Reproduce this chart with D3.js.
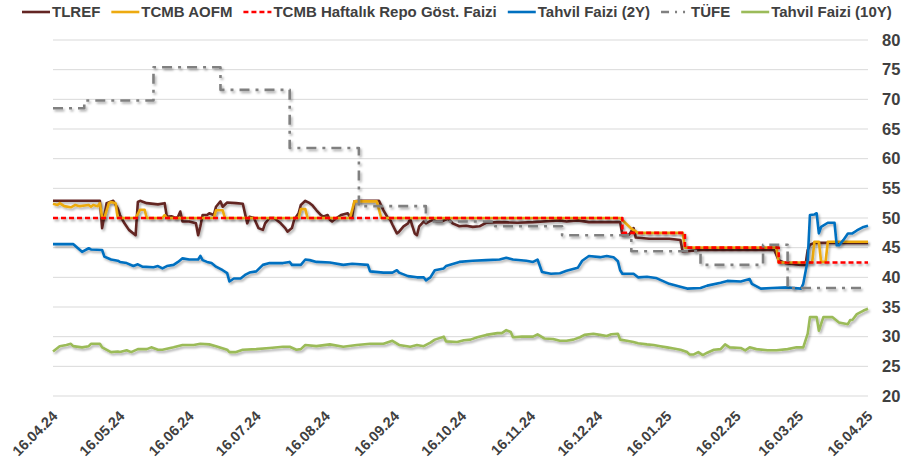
<!DOCTYPE html>
<html>
<head>
<meta charset="utf-8">
<script src="https://cdn.jsdelivr.net/npm/d3@7"></script>
<style>
  html, body { margin: 0; padding: 0; background: #fff; }
  svg { display: block; font-family: "Liberation Sans", Arial, sans-serif; }
</style>
</head>
<body>
<svg id="chart" width="909" height="462"></svg>
<script>
// series values (dd.mm.yy, %)
const tlref = [
  ["16.04.24",52.9],["07.05.24",52.9],["08.05.24",48.3],["10.05.24",52.5],["13.05.24",52.9],["15.05.24",51.6],
  ["16.05.24",50.5],["18.05.24",49.1],["20.05.24",48.0],["23.05.24",47.1],["24.05.24",52.7],["25.05.24",52.9],
  ["28.05.24",52.5],["02.06.24",52.3],["05.06.24",52.5],["06.06.24",50.2],["08.06.24",50.3],["10.06.24",50.0],
  ["11.06.24",50.2],["12.06.24",51.1],["13.06.24",49.4],["16.06.24",49.4],["19.06.24",49.1],["20.06.24",47.1],
  ["21.06.24",48.6],["22.06.24",50.5],["24.06.24",50.5],["25.06.24",50.8],["27.06.24",50.5],["28.06.24",51.9],
  ["30.06.24",52.8],["01.07.24",51.9],["03.07.24",52.6],["07.07.24",52.5],["10.07.24",52.4],["12.07.24",49.1],
  ["13.07.24",50.2],["15.07.24",50.0],["17.07.24",48.3],["19.07.24",48.0],["20.07.24",49.1],["22.07.24",50.0],
  ["24.07.24",50.0],["27.07.24",49.1],["29.07.24",48.3],["30.07.24",47.7],["01.08.24",48.3],["02.08.24",49.7],
  ["04.08.24",50.8],["05.08.24",52.2],["07.08.24",52.9],["09.08.24",52.5],["10.08.24",52.2],["12.08.24",51.3],
  ["14.08.24",50.5],["15.08.24",50.2],["17.08.24",50.5],["18.08.24",49.7],["19.08.24",49.4],["21.08.24",50.0],
  ["23.08.24",50.5],["26.08.24",50.8],["27.08.24",50.2],["28.08.24",50.2],["29.08.24",52.8],["31.08.24",52.9],
  ["09.09.24",52.9],["11.09.24",51.3],["13.09.24",50.0],["14.09.24",49.7],["15.09.24",48.9],["17.09.24",47.4],
  ["18.09.24",47.7],["20.09.24",48.6],["22.09.24",49.1],["23.09.24",49.8],["24.09.24",48.6],["25.09.24",47.4],
  ["26.09.24",47.1],["27.09.24",48.6],["29.09.24",49.4],["30.09.24",49.1],["03.10.24",49.7],["05.10.24",49.4],
  ["07.10.24",49.4],["10.10.24",49.9],["12.10.24",49.1],["15.10.24",48.6],["18.10.24",48.7],["21.10.24",48.5],
  ["24.10.24",48.6],["27.10.24",49.2],["02.11.24",49.3],["10.11.24",49.2],["17.11.24",49.3],["25.11.24",49.5],
  ["29.11.24",49.6],["02.12.24",49.4],["07.12.24",49.6],["12.12.24",49.3],["17.12.24",49.3],["26.12.24",49.3],
  ["27.12.24",47.1],["30.12.24",47.2],["01.01.25",48.3],["02.01.25",46.7],["08.01.25",46.5],["17.01.25",46.5],
  ["22.01.25",46.3],["23.01.25",44.3],["31.01.25",44.6],["09.02.25",44.6],["27.02.25",44.6],["05.03.25",44.6],
  ["07.03.25",42.9],["10.03.25",42.4],["17.03.25",42.1],["19.03.25",42.1],["20.03.25",44.6],["21.03.25",45.5],
  ["23.03.25",45.8],["16.04.25",45.8]
];

const aofm = [
  ["16.04.24",52.4],["18.04.24",52.2],["19.04.24",52.5],["21.04.24",52.0],["24.04.24",51.8],["26.04.24",52.2],
  ["28.04.24",52.0],["02.05.24",52.2],["03.05.24",51.9],["04.05.24",52.2],["06.05.24",52.0],["07.05.24",52.5],
  ["08.05.24",50.0],["09.05.24",50.0],["11.05.24",52.5],["12.05.24",52.7],["14.05.24",52.5],["15.05.24",50.0],
  ["23.05.24",50.0],["25.05.24",51.4],["27.05.24",51.4],["28.05.24",50.0],["04.06.24",50.0],["05.06.24",50.5],
  ["06.06.24",50.0],["27.06.24",50.0],["28.06.24",51.3],["01.07.24",51.3],["02.07.24",50.0],["04.08.24",50.0],
  ["05.08.24",51.5],["07.08.24",51.5],["08.08.24",50.0],["27.08.24",50.0],["29.08.24",52.8],["08.09.24",52.8],
  ["10.09.24",50.0],["26.12.24",50.0],["31.12.24",48.2],["03.01.25",47.5],["23.01.25",47.5],["24.01.25",45.0],
  ["06.03.25",45.0],["07.03.25",42.5],["22.03.25",42.5],["23.03.25",46.0],["25.03.25",46.0],["26.03.25",42.6],
  ["28.03.25",42.6],["29.03.25",46.0],["16.04.25",46.0]
];

const policyRate = [
  ["16.04.24",50],["27.12.24",47.5],["24.01.25",45],["07.03.25",42.5],["16.04.25",42.5]
];

const bond2y = [
  ["16.04.24",45.6],["25.04.24",45.6],["29.04.24",44.3],["02.05.24",44.9],["03.05.24",44.7],["08.05.24",44.6],
  ["09.05.24",43.5],["12.05.24",43.0],["15.05.24",42.8],["16.05.24",42.6],["19.05.24",42.4],["22.05.24",41.9],
  ["24.05.24",42.2],["26.05.24",41.8],["31.05.24",41.7],["02.06.24",41.9],["04.06.24",41.5],["06.06.24",41.9],
  ["09.06.24",42.1],["11.06.24",42.6],["13.06.24",43.2],["16.06.24",43.0],["20.06.24",43.0],["21.06.24",43.6],
  ["22.06.24",42.9],["24.06.24",42.6],["26.06.24",42.4],["28.06.24",41.8],["01.07.24",41.2],["03.07.24",40.7],
  ["04.07.24",39.3],["06.07.24",39.8],["09.07.24",39.8],["11.07.24",40.4],["13.07.24",40.8],["16.07.24",41.0],
  ["19.07.24",42.1],["22.07.24",42.4],["28.07.24",42.4],["31.07.24",42.6],["01.08.24",42.1],["05.08.24",42.1],
  ["07.08.24",43.0],["09.08.24",42.9],["12.08.24",42.6],["18.08.24",42.5],["24.08.24",42.1],["28.08.24",42.3],
  ["04.09.24",42.1],["05.09.24",41.0],["11.09.24",40.8],["15.09.24",40.8],["17.09.24",41.2],["18.09.24",40.8],
  ["22.09.24",40.2],["26.09.24",40.0],["29.09.24",40.0],["30.09.24",39.5],["02.10.24",40.0],["04.10.24",41.2],
  ["08.10.24",41.5],["09.10.24",41.9],["15.10.24",42.6],["21.10.24",42.8],["27.10.24",42.9],["02.11.24",43.0],
  ["05.11.24",43.3],["08.11.24",43.0],["14.11.24",42.8],["17.11.24",42.6],["19.11.24",43.0],["21.11.24",40.9],
  ["25.11.24",40.6],["29.11.24",40.7],["02.12.24",41.1],["07.12.24",41.6],["09.12.24",42.8],["12.12.24",43.6],
  ["17.12.24",43.4],["20.12.24",43.6],["23.12.24",43.4],["25.12.24",42.7],["26.12.24",41.2],["27.12.24",40.6],
  ["01.01.25",40.6],["03.01.25",40.0],["07.01.25",40.1],["11.01.25",39.9],["14.01.25",39.4],["17.01.25",38.9],
  ["22.01.25",38.4],["25.01.25",38.1],["31.01.25",38.2],["03.02.25",38.6],["09.02.25",39.1],["12.02.25",39.4],
  ["18.02.25",39.3],["22.02.25",39.7],["23.02.25",38.9],["27.02.25",38.1],["04.03.25",38.2],["11.03.25",38.3],
  ["17.03.25",38.1],["18.03.25",38.9],["20.03.25",42.9],["21.03.25",50.5],["23.03.25",50.6],["24.03.25",50.8],
  ["25.03.25",47.4],["26.03.25",48.5],["29.03.25",49.2],["01.04.25",49.2],["02.04.25",45.4],["03.04.25",45.4],
  ["05.04.25",46.3],["07.04.25",47.4],["09.04.25",47.4],["11.04.25",47.9],["14.04.25",48.5],["16.04.25",48.7]
];

const tufe = [
  ["16.04.24",68.5],["30.04.24",69.8],["31.05.24",75.4],["30.06.24",71.6],["31.07.24",61.8],["31.08.24",52.0],
  ["30.09.24",49.4],["31.10.24",48.6],["30.11.24",47.1],["31.12.24",44.4],["31.01.25",42.1],["28.02.25",45.5],
  ["11.03.25",38.2],["14.04.25",38.2]
];

const bond10y = [
  ["16.04.24",27.5],["19.04.24",28.4],["22.04.24",28.6],["24.04.24",28.8],["25.04.24",28.4],["29.04.24",28.2],
  ["02.05.24",28.4],["03.05.24",28.8],["07.05.24",28.8],["08.05.24",28.2],["12.05.24",27.4],["15.05.24",27.5],
  ["16.05.24",27.4],["19.05.24",27.7],["21.05.24",27.4],["24.05.24",27.9],["28.05.24",27.9],["30.05.24",28.2],
  ["02.06.24",27.8],["04.06.24",27.8],["09.06.24",28.2],["13.06.24",28.6],["18.06.24",28.6],["21.06.24",28.8],
  ["25.06.24",28.7],["28.06.24",28.4],["03.07.24",27.8],["04.07.24",27.4],["07.07.24",27.4],["10.07.24",27.8],
  ["16.07.24",27.9],["22.07.24",28.1],["28.07.24",28.3],["31.07.24",28.3],["03.08.24",27.8],["05.08.24",27.9],
  ["07.08.24",28.6],["12.08.24",28.4],["18.08.24",28.7],["24.08.24",28.3],["30.08.24",28.6],["05.09.24",28.8],
  ["11.09.24",28.8],["15.09.24",29.3],["18.09.24",28.6],["23.09.24",28.3],["26.09.24",28.6],["29.09.24",28.4],
  ["02.10.24",29.0],["04.10.24",29.5],["08.10.24",30.0],["09.10.24",29.2],["14.10.24",29.1],["17.10.24",29.4],
  ["20.10.24",29.5],["23.10.24",29.9],["27.10.24",30.3],["01.11.24",30.6],["03.11.24",30.6],["05.11.24",31.1],
  ["07.11.24",30.8],["08.11.24",29.9],["12.11.24",30.0],["17.11.24",30.0],["19.11.24",30.4],["22.11.24",29.7],
  ["26.11.24",29.6],["29.11.24",29.3],["02.12.24",29.3],["05.12.24",29.5],["08.12.24",29.9],["10.12.24",30.3],
  ["14.12.24",30.5],["17.12.24",30.3],["20.12.24",30.1],["22.12.24",30.4],["25.12.24",30.5],["26.12.24",29.5],
  ["29.12.24",29.3],["01.01.25",29.1],["03.01.25",28.9],["07.01.25",28.7],["10.01.25",28.6],["13.01.25",28.4],
  ["16.01.25",28.2],["19.01.25",28.0],["22.01.25",27.8],["25.01.25",27.4],["26.01.25",27.0],["28.01.25",27.0],
  ["30.01.25",27.4],["01.02.25",26.9],["03.02.25",27.3],["06.02.25",27.8],["09.02.25",27.9],["11.02.25",28.7],
  ["13.02.25",28.2],["18.02.25",28.1],["20.02.25",27.7],["22.02.25",28.2],["25.02.25",27.9],["02.03.25",27.7],
  ["06.03.25",27.7],["11.03.25",27.9],["15.03.25",28.2],["18.03.25",28.2],["20.03.25",30.5],["21.03.25",33.3],
  ["24.03.25",33.3],["25.03.25",31.0],["27.03.25",33.3],["31.03.25",33.3],["03.04.25",32.4],["07.04.25",32.1],
  ["08.04.25",32.8],["09.04.25",32.8],["11.04.25",33.8],["14.04.25",34.4],["16.04.25",34.7]
];

const xTickLabels = ["16.04.24","16.05.24","16.06.24","16.07.24","16.08.24","16.09.24","16.10.24",
                     "16.11.24","16.12.24","16.01.25","16.02.25","16.03.25","16.04.25"];
const yTickValues = [20,25,30,35,40,45,50,55,60,65,70,75,80];

const parse = d3.timeParse("%d.%m.%y");
const fmt = d3.timeFormat("%d.%m.%y");

const series = [
  { name: "TLREF", data: tlref, color: "#632523", dash: null, curve: d3.curveLinear },
  { name: "TCMB AOFM", data: aofm, color: "#EDAA10", dash: null, curve: d3.curveLinear },
  { name: "TCMB Haftalık Repo Göst. Faizi", data: policyRate, color: "#FF0000", dash: "5,3", curve: d3.curveStepAfter },
  { name: "Tahvil Faizi (2Y)", data: bond2y, color: "#0070C0", dash: null, curve: d3.curveLinear },
  { name: "TÜFE", data: tufe, color: "#808080", dash: "10,6,3,6", curve: d3.curveStepAfter },
  { name: "Tahvil Faizi (10Y)", data: bond10y, color: "#9BBB59", dash: null, curve: d3.curveLinear }
];

const svg = d3.select("#chart");
const margin = { left: 53, right: 41, top: 40, bottom: 66 };
const W = +svg.attr("width"), H = +svg.attr("height");

const x = d3.scaleTime()
  .domain([parse(xTickLabels[0]), parse(xTickLabels[xTickLabels.length - 1])])
  .range([margin.left, W - margin.right]);
const y = d3.scaleLinear().domain([20, 80]).range([H - margin.bottom, margin.top]);

const defs = svg.append("defs");
defs.append("filter").attr("id", "shadow")
  .attr("x", "-5%").attr("y", "-20%").attr("width", "110%").attr("height", "140%")
  .append("feDropShadow")
  .attr("dx", 1.5).attr("dy", 2).attr("stdDeviation", 1.3)
  .attr("flood-color", "#000").attr("flood-opacity", 0.3);

// grid
svg.append("g").attr("class", "grid")
  .selectAll("line").data(yTickValues).enter().append("line")
  .attr("x1", margin.left).attr("x2", W - margin.right)
  .attr("y1", d => y(d)).attr("y2", d => y(d))
  .attr("stroke", "#D9D9D9").attr("stroke-width", 1);

// y axis on the right
const yAxis = svg.append("g")
  .attr("transform", `translate(${W - margin.right},0)`)
  .call(d3.axisRight(y).tickValues(yTickValues).tickSize(0).tickPadding(14));
yAxis.select(".domain").remove();
yAxis.selectAll("text")
  .attr("font-size", 16.5).attr("font-weight", "bold").attr("fill", "#404040")
  .attr("font-family", "Liberation Sans, Arial, sans-serif");

// x axis
const xAxis = svg.append("g")
  .attr("transform", `translate(0,${H - margin.bottom})`)
  .call(d3.axisBottom(x).tickValues(xTickLabels.map(parse)).tickFormat(fmt).tickSize(0));
xAxis.select(".domain").remove();
xAxis.selectAll("text")
  .attr("font-size", 14.5).attr("font-weight", "bold").attr("fill", "#404040")
  .attr("font-family", "Liberation Sans, Arial, sans-serif")
  .attr("text-anchor", "end")
  .attr("dy", 0)
  .attr("y", 0)
  .attr("transform", "translate(5,21) rotate(-45)");

// lines
const line = d3.line().x(d => x(parse(d[0]))).y(d => y(d[1]));
svg.append("g").attr("class", "series")
  .selectAll("path").data(series).enter().append("path")
  .attr("d", s => line.curve(s.curve)(s.data))
  .attr("fill", "none")
  .attr("stroke", s => s.color)
  .attr("stroke-width", 2.6)
  .attr("stroke-linejoin", "round")
  .attr("stroke-dasharray", s => s.dash)
  .attr("filter", "url(#shadow)");

// legend
const legend = svg.append("g").attr("class", "legend").attr("transform", "translate(22,12)");
let lx = 0;
series.forEach(s => {
  const g = legend.append("g").attr("transform", `translate(${lx},0)`);
  g.append("line").attr("x1", 0).attr("x2", 28).attr("y1", 0).attr("y2", 0)
    .attr("stroke", s.color).attr("stroke-width", 2.6)
    .attr("stroke-dasharray", s.dash === "10,6,3,6" ? "8,6,2,6,2" : s.dash);
  const t = g.append("text").attr("x", 30).attr("y", 0).attr("dy", "0.35em")
    .attr("font-size", 15).attr("font-weight", "bold").attr("fill", "#404040")
    .text(s.name);
  lx += 30 + t.node().getComputedTextLength() + 11;
});
</script>
</body>
</html>
